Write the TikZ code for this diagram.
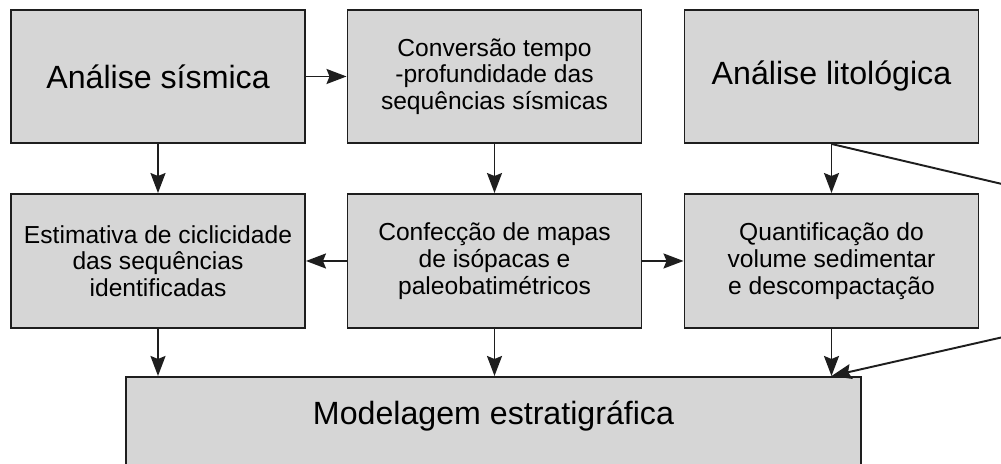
\documentclass[tikz,border=0pt]{standalone}
\usepackage{fontspec}
\setmainfont{Liberation Sans}
\usetikzlibrary{arrows.meta}
\definecolor{boxgray}{RGB}{214, 214, 214}
\definecolor{linedark}{RGB}{30, 30, 30}
\begin{document}
\begin{tikzpicture}[
    box/.style={draw=linedark, line width=1.1pt, fill=boxgray, align=center, inner sep=0pt},
    bigbox/.style={box, minimum width=5.88cm, minimum height=2.66cm, font=\fontsize{18.3}{21}\selectfont},
    smallbox/.style={box, minimum width=5.88cm, minimum height=2.68cm, font=\fontsize{14}{15.2}\selectfont},
    seta/.style={draw=linedark, line width=1.1pt, -{Stealth[length=0.4cm, width=0.3cm, inset=0.06cm]}}
  ]
      \useasboundingbox (0,0) rectangle (20.02,9.28);
      \clip (0,0) rectangle (20.02,9.28);
      \node[bigbox] (sismica) at (3.16,7.75) {Análise sísmica};
      \node[smallbox, minimum height=2.66cm] (conversao) at (9.89,7.75) {Conversão tempo\\-profundidade das\\sequências sísmicas};
      \node[bigbox] (litologica) at (16.63,7.75) {Análise litológica};
      \node[smallbox] (ciclicidade) at (3.16,4.06) {Estimativa de ciclicidade\\das sequências\\identificadas};
      \node[smallbox] (mapas) at (9.89,4.06) {Confecção de mapas\\de isópacas e\\paleobatimétricos};
      \node[smallbox] (volume) at (16.63,4.06) {Quantificação do\\volume sedimentar\\e descompactação};
      \node[box, anchor=north, minimum width=14.7cm, text height=0.96cm, text depth=1.3cm,
            font=\fontsize{18.3}{21}\selectfont] (modelagem) at (9.87,1.76) {Modelagem estratigráfica};
      \coordinate (desvio) at (26.68,4.04);
      \draw[seta] (sismica) -- (conversao);
      \draw[seta] (sismica) -- (ciclicidade);
      \draw[seta] (conversao) -- (mapas);
      \draw[seta] (litologica) -- (volume);
      \draw[seta] (mapas) -- (ciclicidade);
      \draw[seta] (mapas) -- (volume);
      \draw[seta] (ciclicidade.south) -- (ciclicidade.south |- modelagem.north);
      \draw[seta] (mapas.south) -- (mapas.south |- modelagem.north);
      \draw[seta] (volume.south) -- (volume.south |- modelagem.north);
      \draw[seta] (litologica.south) -- (desvio) -- (volume.south |- modelagem.north);
    \end{tikzpicture}
\end{document}
